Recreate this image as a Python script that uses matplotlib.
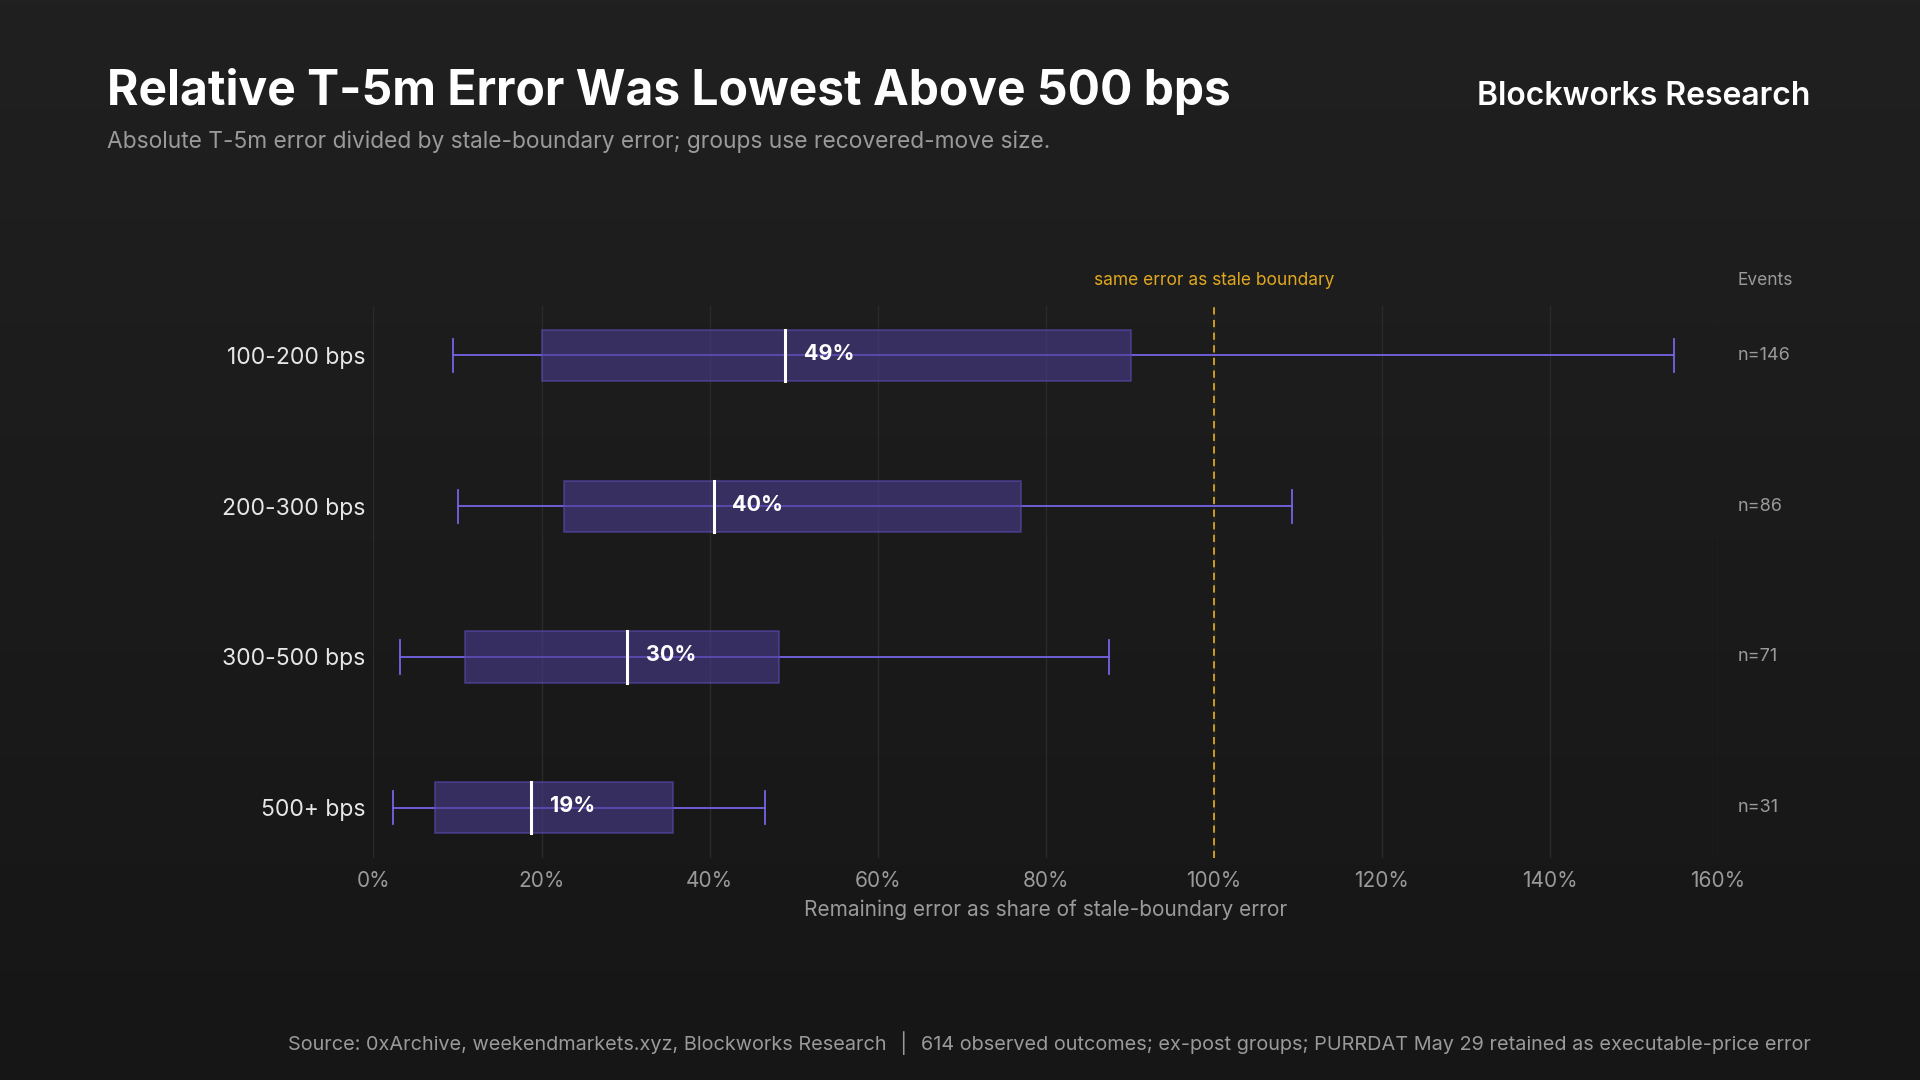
import matplotlib.pyplot as plt
import numpy as np

plt.rcParams['font.family'] = ['Inter', 'DejaVu Sans']

groups = ["100-200 bps", "200-300 bps", "300-500 bps", "500+ bps"]
whisk_lo = [9.5, 10.1, 3.2, 2.3]
q1 = [20.1, 22.7, 10.9, 7.3]
median = [49.0, 40.5, 30.2, 18.8]
q3 = [90.1, 77.1, 48.3, 35.6]
whisk_hi = [154.8, 109.3, 87.5, 46.6]
events = [146, 86, 71, 31]
xticks = [0, 20, 40, 60, 80, 100, 120, 140, 160]

BG = "#1b1b1b"
fig = plt.figure(figsize=(19.2, 10.8), dpi=100, facecolor=BG)
# subtle vertical gradient background
bg = fig.add_axes([0, 0, 1, 1], zorder=-10)
grad = np.linspace(0, 1, 256).reshape(-1, 1)
bg.imshow(grad, aspect="auto", cmap=plt.matplotlib.colors.LinearSegmentedColormap.from_list("g", ["#202020", "#161616"]),
          extent=[0, 1, 0, 1])
bg.axis("off")

ax = fig.add_axes([0.1945, 0.206, 0.7003, 0.511])
ax.set_facecolor("none")
ys = np.arange(len(groups))[::-1]
h = 0.34
for y, lo, a, m, b, hi, n in zip(ys, whisk_lo, q1, median, q3, whisk_hi, events):
    ax.plot([lo, hi], [y, y], color="#7464e6", lw=1.3, zorder=2)
    for x in (lo, hi):
        ax.plot([x, x], [y - 0.11, y + 0.11], color="#7464e6", lw=1.3, zorder=2)
    ax.add_patch(plt.Rectangle((a, y - h / 2), b - a, h, facecolor="#4a3d8f", alpha=0.6,
                               edgecolor="#5b4bb8", lw=1.2, zorder=3))
    ax.plot([m, m], [y - h / 2, y + h / 2], color="white", lw=2.2, zorder=4)
    ax.text(m + 2.2, y + 0.01, f"{m:.0f}%", color="white", fontsize=15.5, fontweight="bold",
            va="center", ha="left", zorder=5)
    ax.text(162.3, y, f"n={n}", color="#9a9a9a", fontsize=13, va="center", ha="left")

ax.axvline(100, color="#d9a520", lw=1.3, ls=(0, (4, 3)), zorder=1)
ax.text(100, 3.5, "same error as stale boundary", color="#e0a820", fontsize=12.5, ha="center", va="center")
ax.text(162.3, 3.5, "Events", color="#9a9a9a", fontsize=12.5, ha="left", va="center")

for x in xticks:
    ax.axvline(x, color="#2a2a2a", lw=1, zorder=0)
ax.set_xlim(0, 160)
ax.set_ylim(-0.33, 3.33)
ax.set_xticks(xticks)
ax.set_xticklabels([f"{x}%" for x in xticks], color="#9a9a9a", fontsize=15)
ax.set_yticks(ys)
ax.set_yticklabels(groups, color="#e6e6e6", fontsize=16.5)
ax.tick_params(length=0, pad=10)
ax.tick_params(axis="y", pad=6)
for s in ax.spines.values():
    s.set_visible(False)
ax.set_xlabel("Remaining error as share of stale-boundary error", color="#9a9a9a", fontsize=15, labelpad=6)

fig.text(0.0555, 0.915, "Relative T-5m Error Was Lowest Above 500 bps", color="white",
         fontsize=34.5, fontweight="bold", va="center")
fig.text(0.0555, 0.869, "Absolute T-5m error divided by stale-boundary error; groups use recovered-move size.",
         color="#9a9a9a", fontsize=16.4, va="center")
fig.text(0.943, 0.911, "Blockworks Research", color="white", fontsize=23, fontweight="semibold",
         ha="right", va="center")
fig.text(0.943, 0.034, "Source: 0xArchive, weekendmarkets.xyz, Blockworks Research  │  614 observed outcomes; ex-post groups; PURRDAT May 29 retained as executable-price error",
         color="#9a9a9a", fontsize=14.3, ha="right", va="center")

fig.savefig("out.png", dpi=100, facecolor=BG)
